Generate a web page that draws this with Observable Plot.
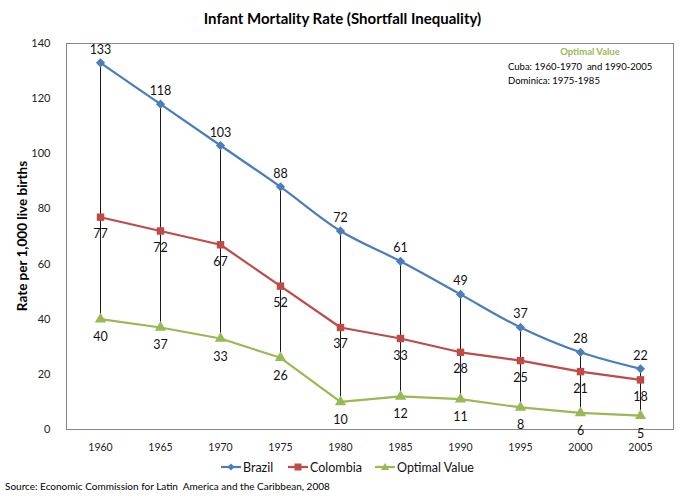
<!DOCTYPE html>
<html><head><meta charset="utf-8">
<script src="https://cdn.jsdelivr.net/npm/d3@7"></script>
<script src="https://cdn.jsdelivr.net/npm/@observablehq/plot@0.6"></script>
<style>
body{margin:0;background:#fff;font-family:Lato,"Open Sans",sans-serif;}
#wrap{position:relative;width:685px;height:496px;}
#wrap svg{position:absolute;left:0;top:0;}
.t{position:absolute;white-space:nowrap;color:#000;}
</style></head><body>
<div id="wrap"></div>
<script>
const years = [1960,1965,1970,1975,1980,1985,1990,1995,2000,2005];
const brazil = [133,118,103,88,72,61,49,37,28,22];
const colombia = [77,72,67,52,37,33,28,25,21,18];
const optimal = [40,37,33,26,10,12,11,8,6,5];
const yTicks = [0,20,40,60,80,100,120,140];
const seriesNames = ["Brazil","Colombia","Optimal Value"];
const colors = ["#4A7EBB","#BE4B48","#98B954"];

const rows = years.map((y,i)=>({year:String(y),brazil:brazil[i],colombia:colombia[i],optimal:optimal[i]}));
const fy = d=>d.year;

const chart = Plot.plot({
  width:685, height:496,
  marginTop:43, marginBottom:67, marginLeft:66, marginRight:12,
  style:{fontFamily:"Lato, 'Open Sans', sans-serif", background:"transparent"},
  x:{type:"point", domain:years.map(String), padding:0.5, label:null, tickSize:0, tickPadding:14},
  y:{domain:[0,140], ticks:yTicks, label:null, tickSize:0, tickPadding:16},
  marks:[
    Plot.frame({stroke:"#868686"}),
    Plot.ruleX(rows,{x:fy, y1:"optimal", y2:"brazil", stroke:"#000", strokeWidth:0.9}),
    Plot.line(rows,{x:fy, y:"brazil", stroke:colors[0], strokeWidth:2.2, curve:"catmull-rom"}),
    Plot.line(rows,{x:fy, y:"colombia", stroke:colors[1], strokeWidth:2.2}),
    Plot.line(rows,{x:fy, y:"optimal", stroke:colors[2], strokeWidth:2.2}),
    Plot.dot(rows,{x:fy, y:"brazil", symbol:"diamond2", r:3.2, fill:colors[0], stroke:colors[0]}),
    Plot.dot(rows,{x:fy, y:"colombia", symbol:"square", r:4.2, fill:colors[1]}),
    Plot.dot(rows,{x:fy, y:"optimal", symbol:"triangle", r:4.2, fill:colors[2]}),
    Plot.text(rows,{x:fy, y:"brazil", text:d=>String(d.brazil), dy:-13, fontSize:12.5, fill:"#111"}),
    Plot.text(rows,{x:fy, y:"colombia", text:d=>String(d.colombia), dy:17, fontSize:12.5, fill:"#111"}),
    Plot.text(rows,{x:fy, y:"optimal", text:d=>String(d.optimal), dy:18, fontSize:12.5, fill:"#111"}),
    Plot.axisX({tickSize:0, tickPadding:14, fontSize:10.5, label:null}),
    Plot.axisY({ticks:yTicks, tickSize:0, tickPadding:16, fontSize:11, label:null})
  ]
});
chart.querySelectorAll("g[aria-label='x-axis tick label'] text, g[aria-label='y-axis tick label'] text").forEach(t=>t.setAttribute("fill","#222"));
const wrap = document.getElementById("wrap");
wrap.appendChild(chart);

function addText(html, css){const d=document.createElement("div");d.className="t";d.innerHTML=html;Object.assign(d.style,css);wrap.appendChild(d);return d;}
addText("Infant Mortality Rate (Shortfall Inequality)",{left:"0",width:"685px",textAlign:"center",top:"9px",fontSize:"15px",fontWeight:"bold"});
addText("Rate per 1,000 live births",{left:"22px",top:"236px",fontSize:"13.5px",fontWeight:"bold",transform:"translate(-50%,-50%) rotate(-90deg)"});
addText("Optimal Value",{left:"545px",width:"90px",textAlign:"center",top:"46px",fontSize:"9.5px",fontWeight:"bold",color:"#98B954"});
addText("Cuba: 1960-1970&nbsp; and 1990-2005",{left:"508px",top:"61px",fontSize:"9.5px"});
addText("Dominica: 1975-1985",{left:"508px",top:"75px",fontSize:"9.5px"});
addText("Source: Economic Commission for Latin&nbsp; America and the Caribbean, 2008",{left:"5px",top:"480px",fontSize:"10px"});

// legend
const leg = document.createElementNS("http://www.w3.org/2000/svg","svg");
leg.setAttribute("width","685");leg.setAttribute("height","496");
leg.style.position="absolute";leg.style.left="0";leg.style.top="0";
const lx=[221,288,375], sym=["diamond","square","triangle"];
seriesNames.forEach((n,i)=>{
  const y=467;
  leg.insertAdjacentHTML("beforeend",`<line x1="${lx[i]}" x2="${lx[i]+20}" y1="${y}" y2="${y}" stroke="${colors[i]}" stroke-width="2.2"/>`);
  const cx=lx[i]+10;
  let s="";
  if(sym[i]==="diamond") s=`<path d="M${cx},${y-3.5}L${cx+3.5},${y}L${cx},${y+3.5}L${cx-3.5},${y}Z" fill="${colors[i]}"/>`;
  else if(sym[i]==="square") s=`<rect x="${cx-3.5}" y="${y-3.5}" width="7" height="7" fill="${colors[i]}"/>`;
  else s=`<path d="M${cx},${y-4}L${cx+4},${y+3}L${cx-4},${y+3}Z" fill="${colors[i]}"/>`;
  leg.insertAdjacentHTML("beforeend",s);
  leg.insertAdjacentHTML("beforeend",`<text x="${lx[i]+22}" y="${y+4.5}" font-size="12.5" font-family="Lato, 'Open Sans', sans-serif" fill="#111">${n}</text>`);
});
wrap.appendChild(leg);
</script>
</body></html>
